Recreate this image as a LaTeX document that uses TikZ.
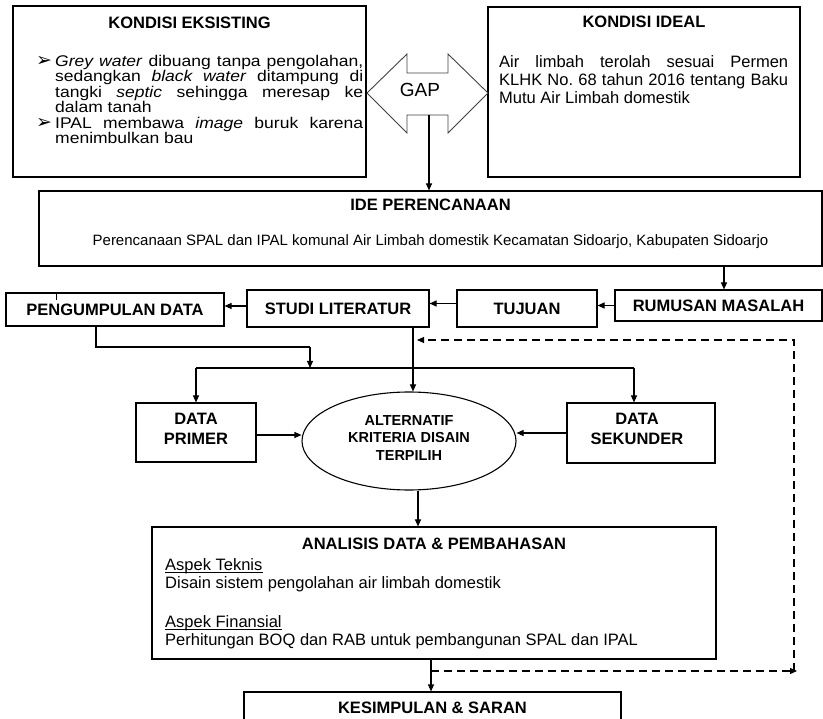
\documentclass[tikz,border=0pt]{standalone}
\usepackage{fontspec}
\setmainfont{Liberation Sans}
\newfontfamily\djv{DejaVu Sans}
\newfontfamily\widefont[FakeStretch=1.13]{Liberation Sans}
\usetikzlibrary{arrows.meta,shapes.geometric}
\newcommand{\fs}[2]{\fontsize{#1}{#2}\selectfont}
\newcommand{\jl}[2]{\makebox[#1][s]{#2}}
\newcommand{\bulx}{\makebox[19pt][l]{\djv\fontsize{19}{20}\selectfont ➢}}
\newcommand{\indx}{\hspace*{19pt}}
\frenchspacing
\begin{document}
\begin{tikzpicture}[x=1pt,y=-1pt,
  bx/.style={draw,line width=1.1pt,inner sep=0pt},
  sbox/.style={draw,line width=1.1pt,inner sep=0pt,font=\bfseries\fs{16.5}{20}},
  arr/.style={line width=1.1pt,-{Triangle[length=7pt,width=6pt]}},
  ln/.style={line width=1.1pt},
  uln/.style={line width=0.8pt},
  dsh/.style={line width=1.1pt,dash pattern=on 8pt off 5pt},
  ttl/.style={font=\bfseries\fs{16.5}{19},inner sep=0pt},
  bdy/.style={font=\fs{16.5}{19},inner sep=0pt,anchor=base west},
]
\useasboundingbox (0,0) rectangle (823,719);

% ---- top boxes
\node[bx,minimum width=353pt,minimum height=171pt] (eks) at (189.5,91.5) {};
\node[bx,minimum width=312pt,minimum height=170pt] (ideal) at (644,92) {};
\node[ttl] (eksT) at (189.5,23) {KONDISI EKSISTING};
\node[inner sep=0pt,anchor=north west,align=left,font=\widefont\fs{15.5}{15.5}] (eksB) at (36,54) {%
\rule{0pt}{12pt}\bulx\jl{308pt}{\textit{Grey water} dibuang tanpa pengolahan,}\\
\indx\jl{308pt}{sedangkan \textit{black water} ditampung di}\\
\indx\jl{308pt}{tangki \textit{septic} sehingga meresap ke}\\
\indx dalam tanah\\
\bulx\jl{308pt}{IPAL membawa \textit{image} buruk karena}\\
\indx menimbulkan bau};

\node[ttl] (idealT) at (644,22) {KONDISI IDEAL};
\node[inner sep=0pt,anchor=north west,align=left,font=\fs{16.5}{18.2}] (idealB) at (499,55) {%
\rule{0pt}{12pt}\jl{289pt}{Air limbah terolah sesuai Permen}\\
\jl{289pt}{KLHK No. 68 tahun 2016 tentang Baku}\\
Mutu Air Limbah domestik};

% ---- GAP double arrow
\draw[line width=0.9pt,draw=black!75] (367,93) -- (407,54) -- (407,73) -- (448,73) -- (448,54)
  -- (488,93) -- (448,133) -- (448,115) -- (407,115) -- (407,133) -- cycle;
\node[font=\fs{19}{21},inner sep=0pt] (gap) at (420,90) {GAP};
\coordinate (gapb) at (429,115);

% ---- IDE PERENCANAAN
\node[bx,minimum width=783pt,minimum height=75pt] (ide) at (430.5,228.5) {};
\node[ttl] (ideT) at (430.5,205) {IDE PERENCANAAN};
\node[font=\fs{15}{17},inner sep=0pt,anchor=base] (ideB) at (430.5,245.5)
  {Perencanaan SPAL dan IPAL komunal Air Limbah domestik Kecamatan Sidoarjo, Kabupaten Sidoarjo};
\draw[arr] (gapb) -- (gapb |- ide.north);

% ---- row of small boxes
\node[sbox,minimum width=207pt,minimum height=31pt] (rum) at (718.5,305.5) {RUMUSAN MASALAH};
\node[sbox,minimum width=140pt,minimum height=37pt] (tuj) at (527,308.5) {TUJUAN};
\node[sbox,minimum width=182pt,minimum height=37pt] (studi) at (338,308.5) {STUDI LITERATUR};
\node[sbox,minimum width=218pt,minimum height=33pt] (peng) at (115,309.5) {PENGUMPULAN DATA};
\draw[line width=0.8pt] (56,293) -- (56,300);

\coordinate (xr) at (724,0);
\draw[arr] (ide.south -| xr) -- (rum.north -| xr);
\draw[arr] (rum.west) -- (rum.west -| tuj.east);
\draw[arr] ([yshift=5pt]tuj.west) -- ([yshift=5pt]tuj.west -| studi.east);
\draw[arr] ([yshift=2.5pt]studi.west) -- ([yshift=2.5pt]studi.west -| peng.east);

% ---- data boxes and ellipse
\node[bx,minimum width=120pt,minimum height=59pt] (primer) at (196,432.5) {};
\node[font=\bfseries\fs{16.5}{20},align=center,inner sep=0pt] (primerT) at (196,429) {DATA\\PRIMER};
\node[bx,minimum width=148pt,minimum height=60pt] (sek) at (641,433) {};
\node[font=\bfseries\fs{16.5}{20},align=center,inner sep=0pt] (sekT) at (637,428.5) {DATA\\SEKUNDER};
\node[draw,ellipse,line width=1.1pt,minimum width=214pt,minimum height=98pt,inner sep=0pt] (ell) at (409,441) {};
\node[font=\bfseries\fs{14.5}{17.5},align=center,inner sep=0pt] (ellT) at (409,438) {ALTERNATIF\\KRITERIA DISAIN\\TERPILIH};

\coordinate (xp) at (96,0);
\coordinate (c1) at (96,347);
\coordinate (c2) at (310,347);
\coordinate (jm) at (310,368);
\coordinate (jl) at (196,368);
\coordinate (jr) at (634,368);
\draw[ln] (peng.south -| xp) -- (c1) -- (c2);
\draw[arr] (c2) -- (jm);
\draw[ln] (jl) -- (jr);
\draw[arr] (jl) -- (primer.north);
\draw[arr] (jr) -- (jr |- sek.north);

\coordinate (xs) at (413,0);
\draw[arr] (studi.south -| xs) -- (ell.north -| xs);
\draw[arr] ([yshift=-2.5pt]primer.east) -- ([yshift=-2.5pt]primer.east -| ell.west);
\draw[arr] (sek.west) -- (sek.west -| ell.east);

% ---- analisis
\node[bx,minimum width=564pt,minimum height=132pt] (anal) at (434,593) {};
\node[ttl] (analT) at (434,544) {ANALISIS DATA \& PEMBAHASAN};
\node[bdy] (a1) at (165,570.5) {Aspek Teknis};
\draw[uln] ([yshift=-2pt]a1.base west) -- ([yshift=-2pt]a1.base east);
\node[bdy] (a2) at (165,588.5) {Disain sistem pengolahan air limbah domestik};
\node[bdy] (a3) at (165,627) {Aspek Finansial};
\draw[uln] ([yshift=-2pt]a3.base west) -- ([yshift=-2pt]a3.base east);
\node[bdy] (a4) at (165,645.5) {Perhitungan BOQ dan RAB untuk pembangunan SPAL dan IPAL};
\coordinate (xa) at (418,0);
\draw[arr] (ell.south -| xa) -- (anal.north -| xa);

% ---- kesimpulan
\node[bx,minimum width=377pt,minimum height=50pt] (kes) at (432.5,717) {};
\node[ttl] (kesT) at (432.5,708) {KESIMPULAN \& SARAN};
\coordinate (xk) at (431,0);
\draw[arr] (anal.south -| xk) -- (kes.north -| xk);

% ---- dashed feedback
\coordinate (d0) at (431,671);
\coordinate (d1) at (797,671);
\coordinate (d2) at (794,671);
\coordinate (d3) at (794,340);
\coordinate (d4) at (417,340);
\draw[dsh,-{Triangle[length=7pt,width=6pt]}] (d0) -- (d1);
\draw[dsh,-{Triangle[length=7pt,width=6pt]}] (d2) -- (d3) -- (d4);
\end{tikzpicture}
\end{document}
